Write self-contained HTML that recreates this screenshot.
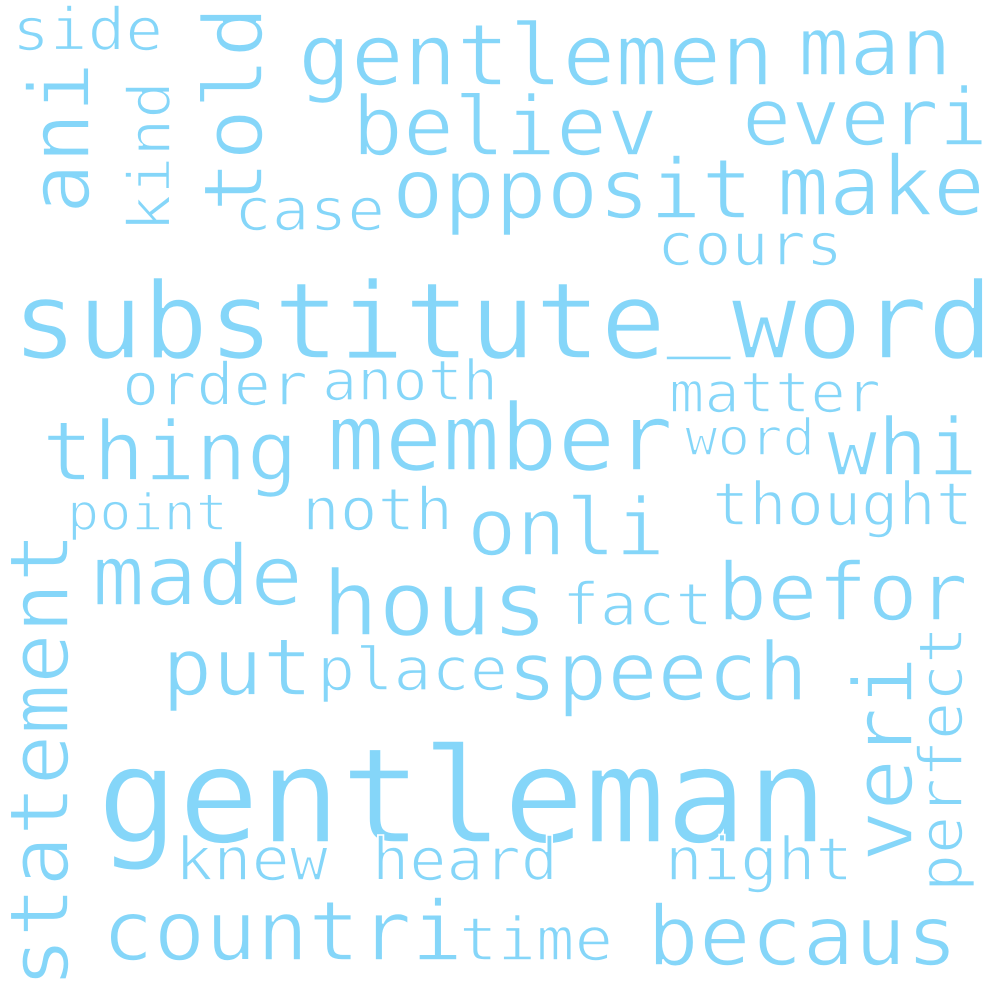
<!DOCTYPE html>
<html><head><meta charset="utf-8"><style>
html,body{margin:0;padding:0;background:#fff;}
svg{display:block;}
text{font-family:"DejaVu Sans Mono","Liberation Mono",monospace;fill:#85d6f9;stroke:#fff;stroke-width:1.6px;paint-order:normal;}
</style></head><body>
<svg id="cloud" width="1000" height="1000" viewBox="0 0 1000 1000"></svg>
<script>
const words=["substitute_word","gentleman","gentlemen","man","believ","everi","opposit","make","case","cours","side","ani","told","kind","statement","veri","perfect","member","thing","whi","anoth","order","matter","word","point","noth","onli","thought","made","hous","befor","fact","put","place","speech","knew","heard","night","countri","time","becaus"];
const sizes=[106,132,86,81,82,79,83,83,59,59,59,84,82,59,82,82,61,93,82,79,56,59,56,51,51,59,79,60,84,90,80,59,79,60,81,60,59,60,83,60,83];
const xs=[12,97,298,798,352,742,392,777,234,657,12,89,262,170,68,912,962,327,42,827,322,122,669,685,67,302,467,712,92,322,717,562,162,317,507,175,372,665,102,459,647];
const ys=[358,842,85,75,155,145,218,215,230,265,50,214,212,232,988,862,892,470,480,475,400,405,412,455,530,530,555,525,605,635,620,625,695,690,700,880,880,880,960,960,965];
const lens=[981,731,476,154,306,246,361,208,151,186,151,152,206,151,456,206,266,346,256,151,176,186,212,130,161,151,198,261,211,226,251,151,151,191,301,153,186,188,361,154,311];
const rots=[0,0,0,0,0,0,0,0,0,0,0,-90,-90,-90,-90,-90,-90,0,0,0,0,0,0,0,0,0,0,0,0,0,0,0,0,0,0,0,0,0,0,0,0];
const svg=document.getElementById('cloud');
const NS='http://www.w3.org/2000/svg';
for(let i=0;i<words.length;i++){
  const t=document.createElementNS(NS,'text');
  
  
  t.setAttribute('font-size',sizes[i]);
  t.setAttribute('textLength',lens[i]);
  t.setAttribute('lengthAdjust','spacingAndGlyphs');
  if(rots[i]){
    t.setAttribute('x',0);t.setAttribute('y',0);
    t.setAttribute('transform','translate('+xs[i]+','+ys[i]+') rotate('+rots[i]+')');
  } else {
    t.setAttribute('x',xs[i]);t.setAttribute('y',ys[i]);
  }
  const parts=words[i].split('_');
  if(parts.length>1){
    const lift=Math.round(sizes[i]*0.22);
    parts.forEach((p,k)=>{
      if(k>0){
        const u=document.createElementNS(NS,'tspan');
        u.setAttribute('dy',-lift);
        u.textContent='_';
        t.appendChild(u);
        const w=document.createElementNS(NS,'tspan');
        w.setAttribute('dy',lift);
        w.textContent=p;
        t.appendChild(w);
      } else {
        t.appendChild(document.createTextNode(p));
      }
    });
  } else {
    t.textContent=words[i];
  }
  svg.appendChild(t);
}
</script>
</body></html>
